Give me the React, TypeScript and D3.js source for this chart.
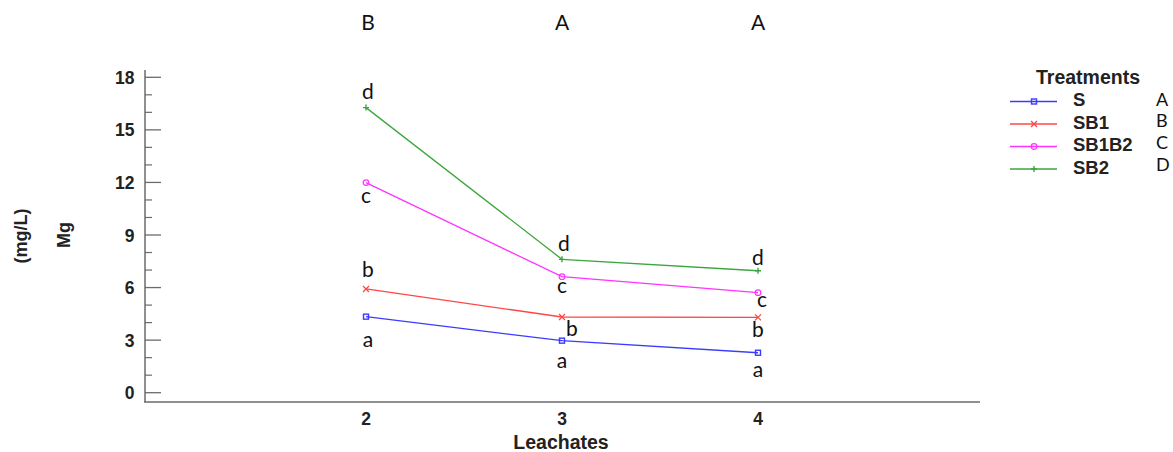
import React from "react";
import * as d3 from "d3";

// Leachate events on the x axis
const leachates = [2, 3, 4];

// Mg concentration (mg/L) per treatment
const treatments = ["S", "SB1", "SB1B2", "SB2"];
const valuesS = [4.34, 2.97, 2.28];
const valuesSB1 = [5.92, 4.32, 4.3];
const valuesSB1B2 = [11.99, 6.62, 5.71];
const valuesSB2 = [16.27, 7.61, 6.96];

// Significance letters
const lettersS = ["a", "a", "a"];
const lettersSB1 = ["b", "b", "b"];
const lettersSB1B2 = ["c", "c", "c"];
const lettersSB2 = ["d", "d", "d"];
const leachateGroups = ["B", "A", "A"];
const treatmentGroups = ["A", "B", "C", "D"];

const yTicks = [0, 3, 6, 9, 12, 15, 18];

const W = 1173;
const H = 452;

const x = d3.scaleLinear().domain([2, 4]).range([366, 758]);
const y = d3.scaleLinear().domain([0, 18]).range([392.7, 77.3]);

const AXIS = "#6b6b6b";
const BOLD_FONT = "'Liberation Sans', Arial, sans-serif";
const LETTER_FONT = "Lato, 'Open Sans', sans-serif";
const LETTER_SIZE = 21;

type Series = {
  name: string;
  values: number[];
  letters: string[];
  color: string;
  marker: "square" | "cross" | "circle" | "plus";
  // label offsets from each point, in px
  offsets: [number, number][];
};

const series: Series[] = [
  {
    name: treatments[0],
    values: valuesS,
    letters: lettersS,
    color: "#3b3bff",
    marker: "square",
    offsets: [[2, 30], [0, 27], [0, 24]],
  },
  {
    name: treatments[1],
    values: valuesSB1,
    letters: lettersSB1,
    color: "#ff4646",
    marker: "cross",
    offsets: [[2, -12], [10, 19], [0, 20]],
  },
  {
    name: treatments[2],
    values: valuesSB1B2,
    letters: lettersSB1B2,
    color: "#ff33ff",
    marker: "circle",
    offsets: [[0, 20], [0, 16], [4, 14]],
  },
  {
    name: treatments[3],
    values: valuesSB2,
    letters: lettersSB2,
    color: "#3da63d",
    marker: "plus",
    offsets: [[2, -9], [2, -8], [0, -6]],
  },
];

function Marker({ kind, cx, cy, color }: { kind: Series["marker"]; cx: number; cy: number; color: string }) {
  if (kind === "square")
    return <rect x={cx - 2.5} y={cy - 2.5} width={5} height={5} fill="none" stroke={color} strokeWidth={1.4} />;
  if (kind === "circle")
    return <circle cx={cx} cy={cy} r={2.8} fill="none" stroke={color} strokeWidth={1.2} />;
  if (kind === "cross")
    return (
      <path
        d={`M${cx - 3},${cy - 3}L${cx + 3},${cy + 3}M${cx - 3},${cy + 3}L${cx + 3},${cy - 3}`}
        stroke={color}
        strokeWidth={1.3}
      />
    );
  return (
    <path d={`M${cx - 3},${cy}L${cx + 3},${cy}M${cx},${cy - 3}L${cx},${cy + 3}`} stroke={color} strokeWidth={1.4} />
  );
}

export default function App() {
  const line = d3
    .line<number>()
    .x((_, i) => x(leachates[i]))
    .y((v) => y(v));

  const minorTicks = d3.range(0, 19, 1).filter((v) => v % 3 !== 0);
  const xLeft = 145;
  const xRight = 980;
  const axisBottom = 402;
  const axisTop = 70;

  return (
    <svg
      width={W}
      height={H}
      style={{ position: "absolute", left: 0, top: 0, background: "#fff" }}
    >
      {/* top group letters */}
      {leachates.map((l, i) => (
        <text
          key={"g" + l}
          x={x(l) + (i === 0 ? 2 : 0)}
          y={29.5}
          textAnchor="middle"
          fontFamily={LETTER_FONT}
          fontSize={LETTER_SIZE}
          fill="#111"
        >
          {leachateGroups[i]}
        </text>
      ))}

      {/* axes */}
      <line x1={xLeft} x2={xLeft} y1={axisTop} y2={axisBottom} stroke={AXIS} strokeWidth={1.5} />
      <line x1={xLeft - 1} x2={xRight} y1={axisBottom} y2={axisBottom} stroke={AXIS} strokeWidth={1.5} />
      {yTicks.map((t) => (
        <g key={"t" + t}>
          <line x1={xLeft} x2={xLeft + 16} y1={y(t)} y2={y(t)} stroke={AXIS} strokeWidth={1.3} />
          <text
            x={134.5}
            y={y(t) + 6.5}
            textAnchor="end"
            fontFamily={BOLD_FONT}
            fontWeight="bold"
            fontSize={17.5}
            fill="#222"
          >
            {t}
          </text>
        </g>
      ))}
      {minorTicks.map((t) => (
        <line key={"m" + t} x1={xLeft} x2={xLeft + 7} y1={y(t)} y2={y(t)} stroke={AXIS} strokeWidth={1.2} />
      ))}

      {/* x tick labels */}
      {leachates.map((l) => (
        <text
          key={"x" + l}
          x={x(l)}
          y={425}
          textAnchor="middle"
          fontFamily={BOLD_FONT}
          fontWeight="bold"
          fontSize={17.5}
          fill="#222"
        >
          {l}
        </text>
      ))}
      <text
        x={x(3) - 1}
        y={449}
        textAnchor="middle"
        fontFamily={BOLD_FONT}
        fontWeight="bold"
        fontSize={19.5}
        fill="#222"
      >
        Leachates
      </text>

      {/* y axis titles */}
      <text
        transform="translate(27,236) rotate(-90)"
        textAnchor="middle"
        fontFamily={BOLD_FONT}
        fontWeight="bold"
        fontSize={18}
        fill="#222"
      >
        (mg/L)
      </text>
      <text
        transform="translate(70,235) rotate(-90)"
        textAnchor="middle"
        fontFamily={BOLD_FONT}
        fontWeight="bold"
        fontSize={18}
        fill="#222"
      >
        Mg
      </text>

      {/* series */}
      {series.map((s) => (
        <g key={s.name}>
          <path d={line(s.values) || ""} fill="none" stroke={s.color} strokeWidth={1.3} />
          {s.values.map((v, i) => (
            <Marker key={i} kind={s.marker} cx={x(leachates[i])} cy={y(v)} color={s.color} />
          ))}
          {s.values.map((v, i) => (
            <text
              key={"l" + i}
              x={x(leachates[i]) + s.offsets[i][0]}
              y={y(v) + s.offsets[i][1]}
              textAnchor="middle"
              fontFamily={LETTER_FONT}
              fontSize={LETTER_SIZE}
              fill="#111"
            >
              {s.letters[i]}
            </text>
          ))}
        </g>
      ))}

      {/* legend */}
      <text
        x={1088}
        y={83.5}
        textAnchor="middle"
        fontFamily={BOLD_FONT}
        fontWeight="bold"
        fontSize={19.5}
        fill="#222"
      >
        Treatments
      </text>
      {series.map((s, i) => {
        const ly = 101.5 + i * 22.5;
        return (
          <g key={"lg" + s.name}>
            <line x1={1010} x2={1057} y1={ly} y2={ly} stroke={s.color} strokeWidth={1.3} />
            <Marker kind={s.marker} cx={1034} cy={ly} color={s.color} />
            <text
              x={1073}
              y={ly + 4.5}
              fontFamily={BOLD_FONT}
              fontWeight="bold"
              fontSize={18.5}
              fill="#222"
            >
              {s.name}
            </text>
            <text
              x={1156}
              y={105.5 + i * 21.7}
              fontFamily={LETTER_FONT}
              fontSize={18}
              fill="#111"
            >
              {treatmentGroups[i]}
            </text>
          </g>
        );
      })}
    </svg>
  );
}
